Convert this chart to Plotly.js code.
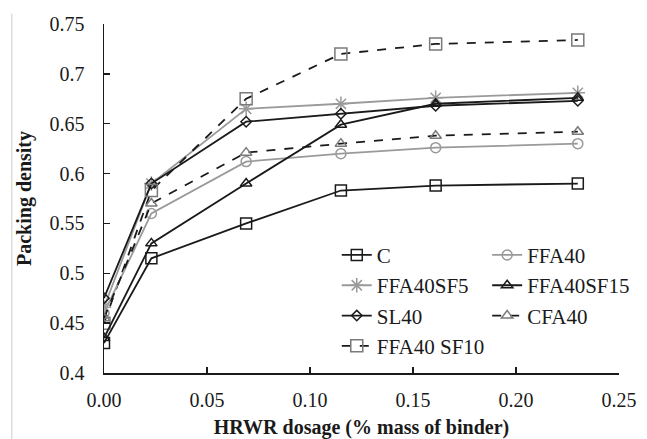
<!DOCTYPE html>
<html>
<head>
<meta charset="utf-8">
<script src="https://cdn.plot.ly/plotly-3.0.1.min.js"></script>
<style>html,body{margin:0;padding:0;background:#fff;}#chart{width:647px;height:439px;}</style>
</head>
<body>
<div id="chart"></div>
<script>
// HRWR dosage (% mass of binder)
const dosage = [0, 0.023, 0.069, 0.115, 0.161, 0.230];

// Packing density per mix
const seriesNames = ["C", "FFA40", "FFA40SF5", "FFA40SF15", "SL40", "CFA40", "FFA40 SF10"];
const C_vals        = [0.430, 0.515, 0.550, 0.583, 0.588, 0.590];
const FFA40_vals    = [0.460, 0.560, 0.612, 0.620, 0.626, 0.630];
const FFA40SF5_vals = [0.466, 0.590, 0.665, 0.670, 0.676, 0.681];
const FFA40SF15_vals= [0.435, 0.530, 0.590, 0.649, 0.670, 0.676];
const SL40_vals     = [0.475, 0.590, 0.652, 0.660, 0.668, 0.673];
const CFA40_vals    = [0.455, 0.570, 0.621, 0.630, 0.638, 0.642];
const FFA40SF10_vals= [0.450, 0.583, 0.675, 0.720, 0.730, 0.734];

const xTicks = [0, 0.05, 0.10, 0.15, 0.20, 0.25];
const yTicks = [0.4, 0.45, 0.5, 0.55, 0.6, 0.65, 0.7, 0.75];

const FONT = "'Liberation Serif', 'Times New Roman', serif";
const BLACK = "#1a1a1a", GRAY = "#9a9a9a", MID = "#7a7a7a";

function tr(name, y, color, dash, sym, msize, mcolor, legend) {
  return {
    type: "scatter", mode: "lines+markers", name: name, x: dosage, y: y,
    legendgroup: name, legend: legend,
    line: {color: color, width: 1.8, dash: dash},
    marker: {symbol: sym, size: msize, color: mcolor,
             line: {color: mcolor, width: 1.5}}
  };
}

const data = [
  tr(seriesNames[0], C_vals, BLACK, "solid", "square-open", 11, BLACK, "legend"),
  tr(seriesNames[2], FFA40SF5_vals, GRAY, "solid", "asterisk-open", 12, GRAY, "legend"),
  tr(seriesNames[4], SL40_vals, BLACK, "solid", "diamond-open", 8, BLACK, "legend"),
  tr(seriesNames[6], FFA40SF10_vals, BLACK, "dash", "square-open", 12, MID, "legend"),
  tr(seriesNames[1], FFA40_vals, GRAY, "solid", "circle-open", 10, GRAY, "legend2"),
  tr(seriesNames[3], FFA40SF15_vals, BLACK, "solid", "triangle-up-open", 10, BLACK, "legend2"),
  tr(seriesNames[5], CFA40_vals, BLACK, "dash", "triangle-up-open", 10, MID, "legend2")
];

const legendCommon = {
  bgcolor: "rgba(0,0,0,0)", borderwidth: 0,
  font: {family: FONT, size: 21, color: BLACK},
  xanchor: "left", yanchor: "top", y: 0.396, tracegroupgap: 5,
  traceorder: "normal"
};

const layout = {
  width: 647, height: 439,
  margin: {l: 104, r: 19, t: 24, b: 66},
  paper_bgcolor: "#fff", plot_bgcolor: "#fff",
  font: {family: FONT, size: 20, color: BLACK},
  showlegend: true,
  legend: Object.assign({}, legendCommon, {x: 0.452}),
  legend2: Object.assign({}, legendCommon, {x: 0.744}),
  xaxis: {
    range: [0, 0.25], tickvals: xTicks, tickformat: ".2f",
    showgrid: false, zeroline: false,
    showline: true, linecolor: BLACK, linewidth: 1.5,
    ticks: "inside", ticklen: 6, tickwidth: 1.5, tickcolor: BLACK,
    ticklabelstandoff: 8,
    tickfont: {family: FONT, size: 20, color: BLACK},
    title: {text: "<b>HRWR dosage (% mass of binder)</b>", font: {family: FONT, size: 20, color: BLACK}, standoff: 11}
  },
  yaxis: {
    range: [0.4, 0.75], tickvals: yTicks,
    showgrid: false, zeroline: false,
    showline: true, linecolor: BLACK, linewidth: 1.5,
    ticks: "inside", ticklen: 6, tickwidth: 1.5, tickcolor: BLACK,
    ticklabelstandoff: 14,
    tickfont: {family: FONT, size: 20, color: BLACK},
    title: {text: "<b>Packing density</b>", font: {family: FONT, size: 20, color: BLACK}, standoff: 12}
  },
  shapes: [{
    type: "line", xref: "paper", yref: "paper",
    x0: -0.179, x1: -0.179, y0: -0.19, y1: 1.03,
    line: {color: "#cccccc", width: 1}
  }]
};

Plotly.newPlot("chart", data, layout, {displayModeBar: false, staticPlot: true});
</script>
</body>
</html>
